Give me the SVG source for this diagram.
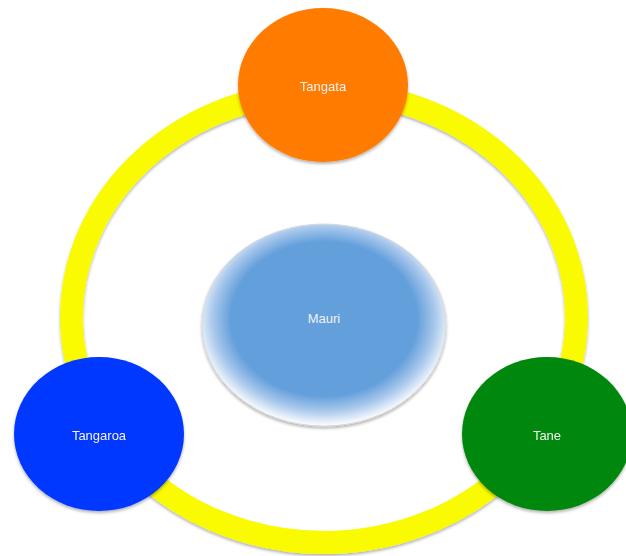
<svg xmlns="http://www.w3.org/2000/svg" width="626" height="556" viewBox="0 0 626 556">
  <defs>
    <filter id="shadow" x="-10%" y="-10%" width="120%" height="125%">
      <feDropShadow dx="0" dy="2" stdDeviation="1.5" flood-color="#000" flood-opacity="0.3"/>
    </filter>
    <radialGradient id="mauriGrad" cx="0.5" cy="0.47" r="0.53">
      <stop offset="0" stop-color="#639fdb"/>
      <stop offset="0.72" stop-color="#639fdb"/>
      <stop offset="0.86" stop-color="#a9c8ec"/>
      <stop offset="1" stop-color="#ffffff"/>
    </radialGradient>
    <style>
      .lbl { font-family: "Liberation Sans", Arial, sans-serif; font-size: 13px; fill: #f2f2f2; text-anchor: middle; dominant-baseline: central; }
      .node { filter: url(#shadow); }
    </style>
  </defs>
  <rect width="626" height="556" fill="#ffffff"/>
  <g id="connectors">
    <ellipse cx="324" cy="317" rx="252.5" ry="225.5" fill="none" stroke="#fafa00" stroke-width="23" filter="url(#shadow)"/>
  </g>
  <g id="mauri">
    <ellipse cx="324" cy="325" rx="122" ry="101" fill="url(#mauriGrad)" stroke="#d8d8d8" stroke-width="1" filter="url(#shadow)"/>
    <text class="lbl" x="324" y="318">Mauri</text>
  </g>
  <g id="tangata" class="node">
    <ellipse cx="323" cy="85" rx="85" ry="77" fill="#ff7b00"/>
    <text class="lbl" x="323" y="86">Tangata</text>
  </g>
  <g id="tangaroa" class="node">
    <ellipse cx="99" cy="434" rx="85" ry="77" fill="#0638ff"/>
    <text class="lbl" x="99" y="435">Tangaroa</text>
  </g>
  <g id="tane" class="node">
    <ellipse cx="547" cy="434" rx="85" ry="77" fill="#00870a"/>
    <text class="lbl" x="547" y="435">Tane</text>
  </g>
</svg>
